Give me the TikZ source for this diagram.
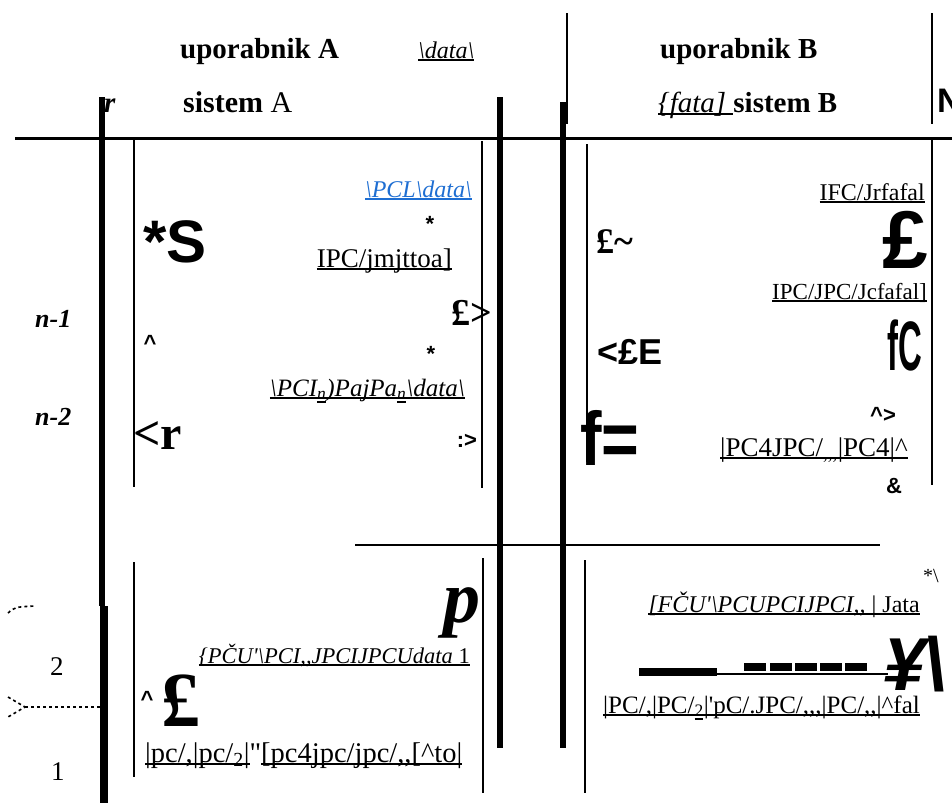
\documentclass[tikz,border=0pt]{standalone}
\usepackage{fontspec}
\setmainfont{Liberation Serif}
\setsansfont{Liberation Sans}
\usepackage{xcolor}
\definecolor{linkblue}{RGB}{30,110,210}
\newcommand{\fs}[1]{\fontsize{#1}{#1}\selectfont}
\newcommand{\ulbar}[1]{\leavevmode\setbox0\hbox{#1}\rlap{\rule[-3pt]{\wd0}{1.6pt}}\box0}

\begin{document}
\begin{tikzpicture}[x=1pt,y=-1pt,
  txt/.style={inner sep=0pt,anchor=base west},
  txtr/.style={inner sep=0pt,anchor=base east},
  glyph/.style={inner sep=0pt,font=\fs{22}\sffamily\bfseries},
  heavy/.style={line width=6pt},
  rule/.style={line width=2pt}]
\useasboundingbox (0,0) rectangle (952,803);
\begin{scope}
\clip (0,0) rectangle (952,803);
% rules of the table
\draw[line width=3.5pt] (15,138.5) -- (952,138.5);
\draw[heavy] (102,97) -- (102,606);
\draw[line width=8pt] (104,606) -- (104,803);
\draw[heavy] (500,97) -- (500,748);
\draw[heavy] (563,102) -- (563,748);
\draw[rule] (567,13) -- (567,124);
\draw[rule] (932,13) -- (932,124);
\draw[rule] (134,140) -- (134,487);
\draw[rule] (482,141) -- (482,488);
\draw[rule] (587,144) -- (587,462);
\draw[rule] (932,140) -- (932,485);
\draw[rule] (355,544.5) -- (880,544.5);
\draw[rule] (134,562) -- (134,777);
\draw[rule] (483,558) -- (483,793);
\draw[rule] (585,560) -- (585,793);
% dashed marks on the left
\draw[dashed,line width=2pt] (25,707) -- (100,707);
\draw[dashed,line width=1.6pt] (8,697) -- (25,707) -- (8,717);
\draw[dashed,line width=1.6pt] (8,613) .. controls (15,607) .. (35,606);
% bar in the lower right box
\fill (639,668) rectangle (717,676);
\draw[line width=1.5pt] (717,674) -- (888,674);
\foreach \x in {744,770,795,820,845}
  \fill (\x,663) rectangle ++(22,8);

% header
\node[txt,font=\fs{29}\bfseries] (usrA) at (180,58) {uporabnik A};
\node[txt,font=\fs{24}\itshape] (datA) at (418,58) {\ulbar{\textbackslash data\textbackslash}};
\node[txt,font=\fs{29}\bfseries\itshape] (rA) at (104,112) {r};
\node[txt,font=\fs{30}] (sysA) at (183,112) {\textbf{sistem} A};
\node[txt,font=\fs{29}\bfseries] (usrB) at (660,58) {uporabnik B};
\node[txt,font=\fs{29}] (sysB) at (658,112) {\ulbar{\textit{\{fata] }}\textbf{sistem B}};
\node[txt,font=\fs{34}\sffamily\bfseries] (nB) at (937,112) {N};

% row labels
\node[txt,font=\fs{26}\bfseries\itshape] (rowA) at (35,327) {n-1};
\node[txt,font=\fs{26}\bfseries\itshape] (rowB) at (35,425) {n-2};
\node[txt,font=\fs{27}] (rowC) at (50,675) {2};
\node[txt,font=\fs{27}] (rowD) at (51,780) {1};

% upper left box
\node[txtr,font=\fs{24}\itshape,text=linkblue] (pcl) at (472,197) {\ulbar{\textbackslash PCL\textbackslash data\textbackslash}};
\node[txt,font=\fs{60}\sffamily\bfseries] (bigS) at (143,262) {*S};
\node[glyph] (starA) at (430,224) {*};
\node[txtr,font=\fs{27}] (ipcA) at (452,267) {\ulbar{IPC/jmjttoa]}};
\node[txt,font=\fs{38}\bfseries] (gbpA) at (451,325) {£>};
\node[glyph] (caretA) at (150,343) {\textasciicircum};
\node[glyph] (starB) at (431,354) {*};
\node[txtr,font=\fs{25}\itshape] (pcin) at (465,396) {\ulbar{\textbackslash PCI\textsubscript{\ulbar{n}})PajPa\textsubscript{\ulbar{n}}\textbackslash data\textbackslash}};
\node[txt,font=\fs{48}\bfseries] (ltr) at (133,449) {<r};
\node[glyph] (colA) at (467,441) {:>};

% upper right box
\node[txtr,font=\fs{24}] (ifc) at (925,200) {\ulbar{IFC/Jrfafal}};
\node[txtr,font=\fs{82}\sffamily\bfseries,text depth=0pt] (gbpB) at (928,268) {£};
\node[txt,font=\fs{36}\bfseries] (gbpC) at (596,253) {£\textasciitilde};
\node[txtr,font=\fs{23}] (ipcB) at (927,299) {\ulbar{IPC/JPC/Jcfafal]}};
\node[txt,font=\fs{36}\sffamily\bfseries] (ltE) at (597,364) {<£E};
\node[txt,font=\fs{70}\sffamily\bfseries,xscale=0.47] (fC) at (887,370) {fC};
\node[glyph] (carB) at (883,415) {\textasciicircum>};
\node[txt,font=\fs{76}\sffamily\bfseries,xscale=0.85] (fEq) at (580,465) {f=};
\node[txtr,font=\fs{27}] (pcf) at (908,456) {\ulbar{|PC4JPC/\textsubscript{,{},{},}|PC4|\textasciicircum}};
\node[glyph] (amp) at (894,486) {\&};

% lower left box
\node[txtr,font=\fs{74}\bfseries\itshape] (bigP) at (481,622) {p};
\node[txtr,font=\fs{22.5}] (pcu) at (470,663) {\ulbar{\textit{\{PČU\textquotesingle}}\ulbar{\textit{\textbackslash PCI,{},JPCIJPCUdata} 1}};
\node[glyph] (caretC) at (147,699) {\textasciicircum};
\node[txt,font=\fs{78}\bfseries,text depth=0pt] (gbpD) at (161,726) {£};
\node[txt,font=\fs{28.5}] (pclow) at (145,762) {\ulbar{|pc/,|pc/\textsubscript{2}|}\textquotedbl\ulbar{[pc4jpc/jpc/,{},[\textasciicircum to|}};

% lower right box
\node[inner sep=0pt,font=\fs{20}] (starC) at (931,576) {*\textbackslash};
\node[txtr,font=\fs{24}] (fcu) at (920,612) {\ulbar{\textit{[FČU\textquotesingle}}\ulbar{\textit{\textbackslash PCUPCIJPCI,{},} | Jata}};
\node[txt,font=\fs{75}\sffamily\bfseries\itshape] (yen) at (883,690) {¥\textbackslash};
\node[txtr,font=\fs{25}] (pcbot) at (920,713) {\ulbar{|PC/,|PC/\textsubscript{\ulbar{2}}|}\ulbar{\textquotesingle pC/.JPC/,{},{},|PC/,{},|\textasciicircum fal}};
\end{scope}
\end{tikzpicture}
\end{document}
